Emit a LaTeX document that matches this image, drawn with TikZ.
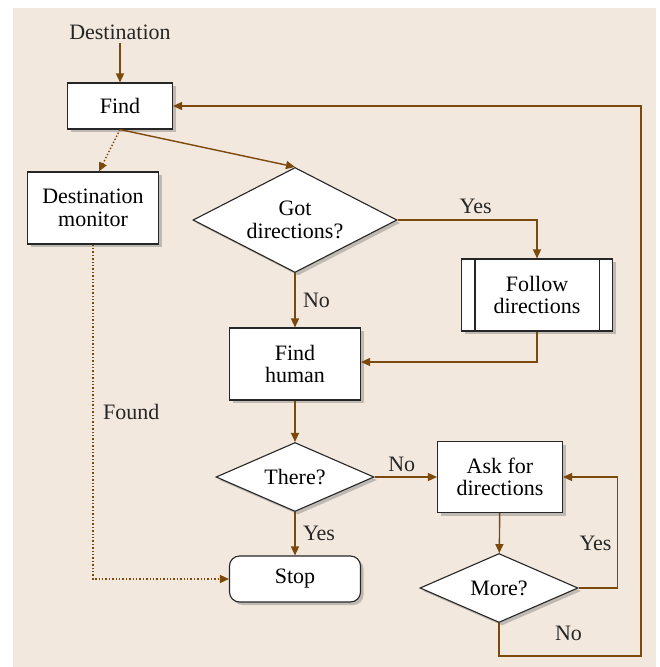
\documentclass[tikz,border=0pt]{standalone}
\usepackage{fontspec}
\setmainfont{Liberation Serif}
\usepackage{xcolor}
\usetikzlibrary{shadows,shapes.geometric,arrows.meta}

\definecolor{panelbg}{RGB}{242,232,222}
\definecolor{flowbrown}{RGB}{123,73,12}

\begin{document}
\begin{tikzpicture}[x=1pt, y=-1pt,
    font=\fontsize{22}{22.5}\selectfont,
    box/.style={draw=black!85, line width=1.1pt, fill=white, align=center,
      inner sep=0pt, drop shadow={shadow xshift=3pt, shadow yshift=-3pt, opacity=0.45}},
    decision/.style={box, diamond, aspect=2},
    flow/.style={draw=flowbrown, line width=1.4pt, -{Triangle[length=9pt,width=8pt]}},
    seen/.style={flow, dotted},
    lbl/.style={text=black!85}]
  % Panel with white margin
  \useasboundingbox (0,0) rectangle (660,667);
  \fill[panelbg] (13,8) rectangle (656,667);

  % Nodes
  \node[lbl] (dest) at (120,32) {Destination};
  \node[box, minimum width=105, minimum height=46] (find) at (120,106) {Find};
  \node[box, minimum width=131, minimum height=72] (monitor) at (93,208) {Destination\\monitor};
  \node[decision, minimum width=204, minimum height=105] (got) at (295,220) {Got\\directions?};
  \node[box, minimum width=151, minimum height=72] (follow) at (537,295) {Follow\\directions};
  \draw[draw=black!85, line width=1.1pt] ([xshift=14pt]follow.north west) -- ([xshift=14pt]follow.south west);
  \draw[draw=black!85, line width=1.1pt] ([xshift=-14pt]follow.north east) -- ([xshift=-14pt]follow.south east);
  \node[box, minimum width=131, minimum height=72] (human) at (295,364) {Find\\human};
  \node[decision, minimum width=158, minimum height=69] (there) at (295,477) {There?};
  \node[box, rounded corners=10pt, minimum width=131, minimum height=46] (stop) at (295,579) {Stop};
  \node[box, minimum width=125, minimum height=71] (ask) at (500,477) {Ask for\\directions};
  \node[decision, minimum width=158, minimum height=69] (more) at (499,588) {More?};

  % Connectors
  \draw[flow] (dest) -- (find);
  \draw[flow] (find.south) -- (got.north);
  \draw[seen] (find.south) -- ([xshift=6pt]monitor.north);
  \draw[seen] (monitor.south) |- (stop.west) node[lbl, pos=0.25, right=6pt] {Found};
  \draw[flow] (got.east) -| (follow.north) node[lbl, pos=0.28, above=2pt] {Yes};
  \draw[flow] (got.south) -- (human.north) node[lbl, midway, right=4pt] {No};
  \draw[flow] (follow.south) |- ([yshift=2pt]human.east);
  \draw[flow] (human) -- (there);
  \draw[flow] (there.east) -- (ask.west) node[lbl, midway, above=1pt, xshift=-4pt] {No};
  \draw[flow] (there.south) -- (stop.north) node[lbl, midway, right=4pt] {Yes};
  \draw[flow] (ask) -- (more);
  \draw[flow] (more.east) -- ++(39,0) |- (ask.east) node[lbl, pos=0.2, left=2pt] {Yes};
  \draw[flow] (more.south) -- ++(0,33) node[lbl, pos=0.3, right=52pt] {No}
    -| (641,106) -- (find.east);
\end{tikzpicture}
\end{document}
